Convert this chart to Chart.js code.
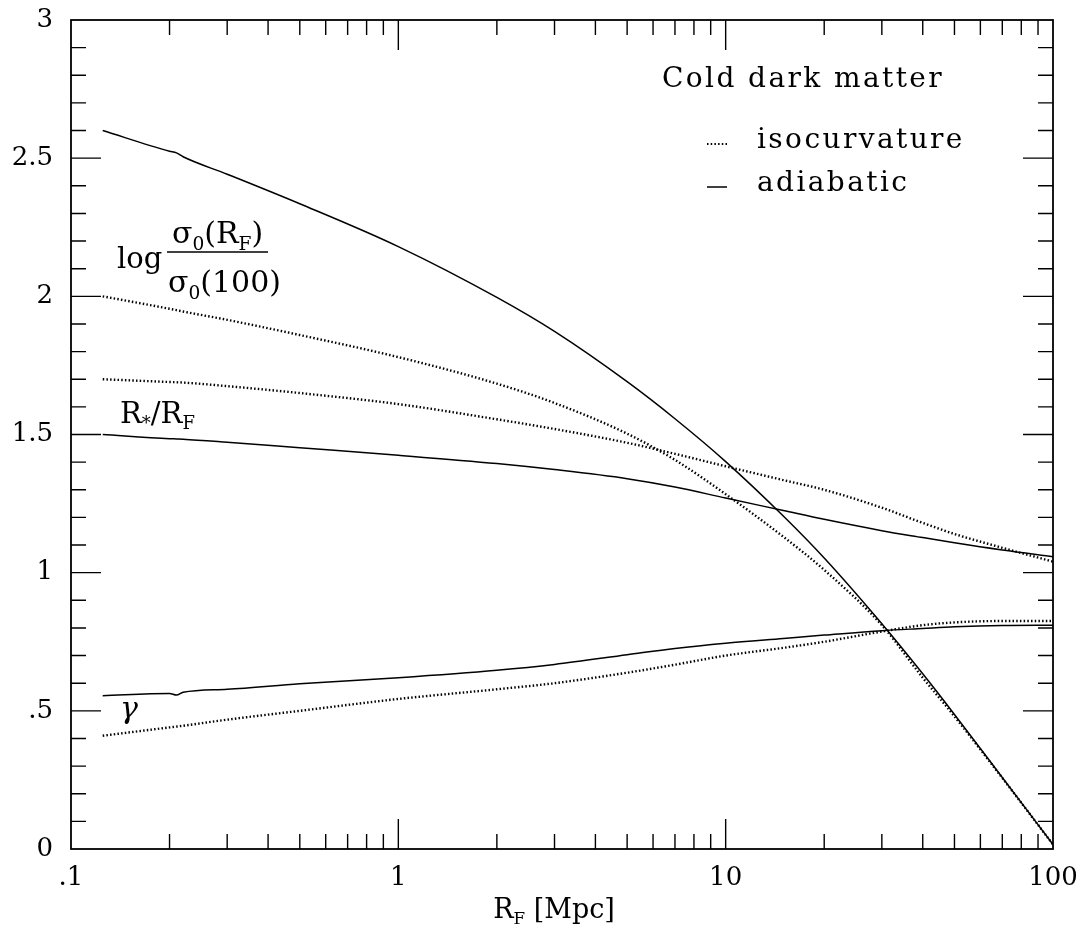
<!DOCTYPE html>
<html>
<head>
<meta charset="utf-8">
<script src="https://cdn.jsdelivr.net/npm/chart.js@4"></script>
<style>
  html, body { margin: 0; padding: 0; background: #fff; }
  #wrap { width: 1084px; height: 928px; }
</style>
</head>
<body>
<div id="wrap"><canvas id="chart"></canvas></div>
<script>
// filter radius R_F [Mpc]
var rF = [0.125, 0.2, 0.21, 0.22, 0.3, 0.5, 1, 2, 3, 5, 7, 10, 15, 20, 30, 40, 50, 70, 100];

// log sigma0(RF)/sigma0(100)
var sigmaAdi = [2.60, 2.525, 2.519, 2.505, 2.442, 2.335, 2.18, 1.996, 1.873, 1.691, 1.557, 1.402, 1.205, 1.053, 0.815, 0.634, 0.487, 0.259, 0.016];
var sigmaIso = [2.00, 1.955, 1.95, 1.945, 1.915, 1.86, 1.78, 1.684, 1.614, 1.503, 1.408, 1.284, 1.13, 1.01, 0.81, 0.62, 0.48, 0.257, 0.016];
// R*/RF
var rstarAdi = [1.50, 1.485, 1.484, 1.483, 1.472, 1.452, 1.425, 1.395, 1.373, 1.34, 1.31, 1.27, 1.225, 1.193, 1.152, 1.127, 1.108, 1.082, 1.058];
var rstarIso = [1.70, 1.69, 1.689, 1.688, 1.675, 1.65, 1.61, 1.555, 1.52, 1.47, 1.43, 1.385, 1.335, 1.30, 1.235, 1.18, 1.14, 1.09, 1.04];
// gamma
var gammaAdi = [0.555, 0.563, 0.557, 0.567, 0.578, 0.598, 0.62, 0.647, 0.668, 0.703, 0.726, 0.745, 0.762, 0.774, 0.79, 0.798, 0.804, 0.809, 0.81];
var gammaIso = [0.41, 0.44, 0.443, 0.446, 0.468, 0.50, 0.543, 0.578, 0.60, 0.638, 0.667, 0.70, 0.728, 0.75, 0.787, 0.81, 0.82, 0.825, 0.825];

var xTicks = [0.1, 1, 10, 100];
var yTicks = [0, 0.5, 1, 1.5, 2, 2.5, 3];

var serif = '"DejaVu Serif", "Liberation Serif", serif';

function pts(ys) {
  return rF.map(function (x, i) { return { x: x, y: ys[i] }; });
}

function line(label, ys, dotted) {
  return {
    label: label,
    data: pts(ys),
    borderColor: '#000',
    borderWidth: dotted ? 2.4 : 1.5,
    borderDash: dotted ? [1.5, 2.2] : [],
    pointRadius: 0,
    fill: false,
    cubicInterpolationMode: 'monotone'
  };
}

function fmt(v) {
  var s = String(v);
  if (s.indexOf('0.') === 0) s = s.slice(1);
  return s;
}

// text with subscript pieces
function drawRich(ctx, parts, x, y, size) {
  var cx = x;
  parts.forEach(function (p) {
    var fs = p.sub ? size * 0.62 : size;
    ctx.font = (p.italic ? 'italic ' : '') + fs + 'px ' + serif;
    ctx.fillText(p.t, cx, y + (p.sub ? size * 0.22 : 0));
    cx += ctx.measureText(p.t).width;
  });
  return cx - x;
}

var decor = {
  id: 'decor',
  afterDraw: function (chart) {
    var ctx = chart.ctx, a = chart.chartArea;
    var xs = chart.scales.x, ys = chart.scales.y;
    ctx.save();
    ctx.strokeStyle = '#000';
    ctx.fillStyle = '#000';
    ctx.lineWidth = 1.8;
    ctx.strokeRect(a.left, a.top, a.right - a.left, a.bottom - a.top);

    // inward ticks on all four sides
    ctx.lineWidth = 1.4;
    ctx.beginPath();
    for (var d = -1; d < 2; d++) {
      for (var m = 1; m < 10; m++) {
        var v = m * Math.pow(10, d);
        if (v <= xs.min || v >= xs.max) continue;
        var px = xs.getPixelForValue(v);
        var len = m === 1 ? 30 : 15;
        ctx.moveTo(px, a.bottom); ctx.lineTo(px, a.bottom - len);
        ctx.moveTo(px, a.top); ctx.lineTo(px, a.top + len);
      }
    }
    for (var k = 1; k < 30; k++) {
      var py = ys.getPixelForValue(k / 10);
      var l2 = k % 5 === 0 ? 30 : 15;
      ctx.moveTo(a.left, py); ctx.lineTo(a.left + l2, py);
      ctx.moveTo(a.right, py); ctx.lineTo(a.right - l2, py);
    }
    ctx.stroke();

    // legend
    ctx.textBaseline = 'middle';
    ctx.font = '28px ' + serif;
    ctx.letterSpacing = '2.4px';
    ctx.fillText('Cold dark matter', 662, 80);
    ctx.fillText('isocurvature', 757, 141);
    ctx.fillText('adiabatic', 757, 184);
    ctx.letterSpacing = '0px';
    ctx.beginPath();
    ctx.lineWidth = 1.8;
    ctx.setLineDash([1.5, 2.2]);
    ctx.moveTo(707, 144); ctx.lineTo(727, 144);
    ctx.stroke();
    ctx.setLineDash([]);
    ctx.beginPath();
    ctx.lineWidth = 1.5;
    ctx.moveTo(707, 187); ctx.lineTo(727, 187);
    ctx.stroke();

    // curve labels
    ctx.textBaseline = 'alphabetic';
    ctx.font = '29px ' + serif;
    ctx.fillText('log', 117, 268);
    drawRich(ctx, [{ t: 'σ' }, { t: '0', sub: true }, { t: '(R' }, { t: 'F', sub: true }, { t: ')' }], 172, 243, 30);
    ctx.beginPath();
    ctx.lineWidth = 1.4;
    ctx.moveTo(167, 252); ctx.lineTo(268, 252);
    ctx.stroke();
    drawRich(ctx, [{ t: 'σ' }, { t: '0', sub: true }, { t: '(100)' }], 168, 292, 30);

    drawRich(ctx, [{ t: 'R' }, { t: '*', sub: true }, { t: '/R' }, { t: 'F', sub: true }], 120, 423, 29);
    drawRich(ctx, [{ t: 'γ', italic: true }], 120, 718, 30);

    // x axis title
    var title = [{ t: 'R' }, { t: 'F', sub: true }, { t: ' [Mpc]' }];
    var w = drawRich(ctx, title, -1000, 0, 27);
    drawRich(ctx, title, 554 - w / 2, 918, 27);
    ctx.restore();
  }
};

new Chart(document.getElementById('chart'), {
  type: 'line',
  data: {
    datasets: [
      line('adiabatic sigma', sigmaAdi, false),
      line('isocurvature sigma', sigmaIso, true),
      line('adiabatic R*/RF', rstarAdi, false),
      line('isocurvature R*/RF', rstarIso, true),
      line('adiabatic gamma', gammaAdi, false),
      line('isocurvature gamma', gammaIso, true)
    ]
  },
  options: {
    responsive: true,
    maintainAspectRatio: false,
    animation: false,
    layout: { padding: { top: 20, right: 31, left: 0, bottom: 0 } },
    plugins: { legend: { display: false }, tooltip: { enabled: false } },
    scales: {
      x: {
        type: 'logarithmic',
        min: 0.1,
        max: 100,
        afterBuildTicks: function (s) { s.ticks = xTicks.map(function (v) { return { value: v }; }); },
        afterFit: function (s) { s.height = 79; s.paddingLeft = 0; s.paddingRight = 0; },
        grid: { display: false, drawTicks: false },
        border: { display: false },
        ticks: {
          color: '#000',
          padding: 14,
          maxRotation: 0,
          autoSkip: false,
          font: { family: serif, size: 26 },
          callback: function (v) { return fmt(v); }
        }
      },
      y: {
        min: 0,
        max: 3,
        afterBuildTicks: function (s) { s.ticks = yTicks.map(function (v) { return { value: v }; }); },
        afterFit: function (s) { s.width = 71; s.paddingTop = 0; s.paddingBottom = 0; },
        grid: { display: false, drawTicks: false },
        border: { display: false },
        ticks: {
          color: '#000',
          padding: 18,
          font: { family: serif, size: 26 },
          callback: function (v) { return fmt(v); }
        }
      }
    }
  },
  plugins: [decor]
});
</script>
</body>
</html>
